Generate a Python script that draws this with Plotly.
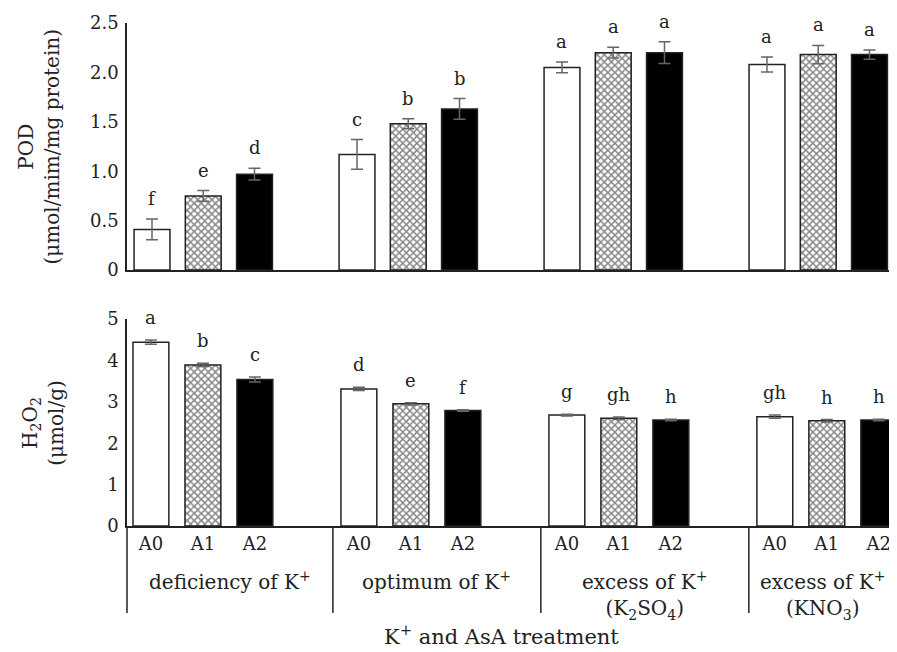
import plotly.graph_objects as go

# ---------------- data ----------------
groups = [
    "deficiency of K<sup>+</sup>",
    "optimum of K<sup>+</sup>",
    "excess of K<sup>+</sup><br>(K<sub>2</sub>SO<sub>4</sub>)",
    "excess of K<sup>+</sup><br>(KNO<sub>3</sub>)",
]
treatments = ["A0", "A1", "A2"]

pod_A0 = [0.41, 1.17, 2.05, 2.08]
pod_A1 = [0.75, 1.48, 2.20, 2.18]
pod_A2 = [0.97, 1.63, 2.20, 2.18]
pod_err_A0 = [0.105, 0.15, 0.054, 0.076]
pod_err_A1 = [0.054, 0.05, 0.054, 0.093]
pod_err_A2 = [0.06, 0.105, 0.11, 0.047]
pod_let_A0 = ["f", "c", "a", "a"]
pod_let_A1 = ["e", "b", "a", "a"]
pod_let_A2 = ["d", "b", "a", "a"]

h2o2_A0 = [4.44, 3.31, 2.68, 2.64]
h2o2_A1 = [3.89, 2.95, 2.60, 2.54]
h2o2_A2 = [3.54, 2.79, 2.56, 2.56]
h2o2_err_A0 = [0.05, 0.04, 0.02, 0.04]
h2o2_err_A1 = [0.04, 0.03, 0.03, 0.03]
h2o2_err_A2 = [0.06, 0.02, 0.02, 0.02]
h2o2_let_A0 = ["a", "d", "g", "gh"]
h2o2_let_A1 = ["b", "e", "gh", "h"]
h2o2_let_A2 = ["c", "f", "h", "h"]

pod_tickvals = [0, 0.5, 1.0, 1.5, 2.0, 2.5]
pod_ticktext = ["0", "0.5", "1.0", "1.5", "2.0", "2.5"]
h2o2_tickvals = [0, 1, 2, 3, 4, 5]
h2o2_ticktext = ["0", "1", "2", "3", "4", "5"]

pod_title = "POD<br>(μmol/mim/mg protein)"
h2o2_title = "H<sub>2</sub>O<sub>2</sub><br>(μmol/g)"
x_title = "K<sup>+</sup> and AsA treatment"

# ---------------- styling ----------------
FONT = "DejaVu Serif"
TXT = "#222222"
INK = "#222222"
SLOTS = 4  # 3 bars + 1 gap per group
OFF = 8    # default page (body) margin
W, H = 897 - OFF, 652 - OFF

styles = [
    dict(color="white", line=dict(color=INK, width=1.5)),
    dict(color="white", line=dict(color=INK, width=1.5),
         pattern=dict(shape="x", fgcolor="#111111", bgcolor="white", size=5, solidity=0.5)),
    dict(color="#000000", line=dict(color=INK, width=1.5)),
]
err_style = dict(type="data", color="#666666", thickness=1.5, width=6)

pod_vals = [pod_A0, pod_A1, pod_A2]
pod_errs = [pod_err_A0, pod_err_A1, pod_err_A2]
pod_lets = [pod_let_A0, pod_let_A1, pod_let_A2]
h_vals = [h2o2_A0, h2o2_A1, h2o2_A2]
h_errs = [h2o2_err_A0, h2o2_err_A1, h2o2_err_A2]
h_lets = [h2o2_let_A0, h2o2_let_A1, h2o2_let_A2]

def xpos(b):
    return [SLOTS * g + b for g in range(len(groups))]

def py(px):
    """page pixel (from top) -> paper y"""
    return 1 - (px - OFF) / H

fig = go.Figure()
annotations = []

for b, name in enumerate(treatments):
    fig.add_trace(go.Bar(
        x=xpos(b), y=pod_vals[b], width=0.70, name=name,
        marker=styles[b],
        error_y=dict(array=pod_errs[b], **err_style),
        xaxis="x", yaxis="y", showlegend=False,
    ))
    fig.add_trace(go.Bar(
        x=xpos(b), y=h_vals[b], width=0.69, name=name,
        marker=styles[b],
        error_y=dict(array=h_errs[b], **err_style),
        xaxis="x2", yaxis="y2", showlegend=False,
    ))
    for g in range(len(groups)):
        annotations.append(dict(
            x=xpos(b)[g], y=pod_vals[b][g] + pod_errs[b][g], xref="x", yref="y",
            text=pod_lets[b][g], showarrow=False, yanchor="bottom", yshift=8,
            font=dict(family=FONT, size=18, color=TXT)))
        annotations.append(dict(
            x=xpos(b)[g], y=h_vals[b][g] + h_errs[b][g], xref="x2", yref="y2",
            text=h_lets[b][g], showarrow=False, yanchor="bottom", yshift=10,
            font=dict(family=FONT, size=18, color=TXT)))

# x ranges (slightly different scale in the two panels)
x1_range = [-0.488, 14.537]
x2_range = [-0.46, 14.35]

# group dividers under the bottom axis
dividers = [SLOTS * g - 0.5 for g in range(1, len(groups))]
div_depth = -0.42
shapes = [dict(type="line", xref="x2 domain", yref="y2 domain", x0=0, x1=0,
               y0=0, y1=div_depth, line=dict(color=INK, width=1.5))]
for d in dividers:
    shapes.append(dict(type="line", xref="x2", yref="y2 domain", x0=d, x1=d,
                       y0=0, y1=div_depth, line=dict(color=INK, width=1.5)))

bounds = [x2_range[0]] + dividers + [x2_range[1]]
for g, lab in enumerate(groups):
    annotations.append(dict(
        x=(bounds[g] + bounds[g + 1]) / 2, y=-0.195, xref="x2", yref="y2 domain",
        text=lab, showarrow=False, xanchor="center", yanchor="top",
        font=dict(family=FONT, size=20, color=TXT)))

annotations.append(dict(x=-0.113, y=0.5, xref="paper", yref="y domain",
                        text=pod_title, textangle=-90, showarrow=False,
                        xanchor="center", yanchor="middle",
                        font=dict(family=FONT, size=20, color=TXT)))
annotations.append(dict(x=-0.11, y=0.5, xref="paper", yref="y2 domain",
                        text=h2o2_title, textangle=-90, showarrow=False,
                        xanchor="center", yanchor="middle",
                        font=dict(family=FONT, size=20, color=TXT)))
annotations.append(dict(x=0.486, y=0, xref="paper", yref="paper",
                        text=x_title, showarrow=False,
                        xanchor="center", yanchor="bottom", yshift=1,
                        font=dict(family=FONT, size=21, color=TXT)))

axis_common = dict(showgrid=False, zeroline=False, showline=True, automargin=False,
                   linecolor=INK, linewidth=1.5, ticks="",
                   tickfont=dict(family=FONT, size=18, color=TXT))

fig.update_layout(
    width=W, height=H,
    margin=dict(l=127 - OFF, r=0, t=0, b=0, autoexpand=False),
    paper_bgcolor="white", plot_bgcolor="white",
    barmode="overlay",
    font=dict(family=FONT, color=TXT),
    xaxis=dict(domain=[0, 1], range=x1_range, anchor="y", showticklabels=False, **axis_common),
    yaxis=dict(domain=[py(270), py(23)], range=[0, 2.5], anchor="x",
               tickvals=pod_tickvals, ticktext=pod_ticktext, ticklabelstandoff=3, **axis_common),
    xaxis2=dict(domain=[0, 1], range=x2_range, anchor="y2",
                tickvals=[SLOTS * g + b for g in range(len(groups)) for b in range(len(treatments))],
                ticktext=[t for g in range(len(groups)) for t in treatments],
                ticklabelstandoff=1, **axis_common),
    yaxis2=dict(domain=[py(526), py(319)], range=[0, 5], anchor="x2",
                tickvals=h2o2_tickvals, ticktext=h2o2_ticktext, ticklabelstandoff=3, **axis_common),
    shapes=shapes,
    annotations=annotations,
)

fig.write_html("out.html")
